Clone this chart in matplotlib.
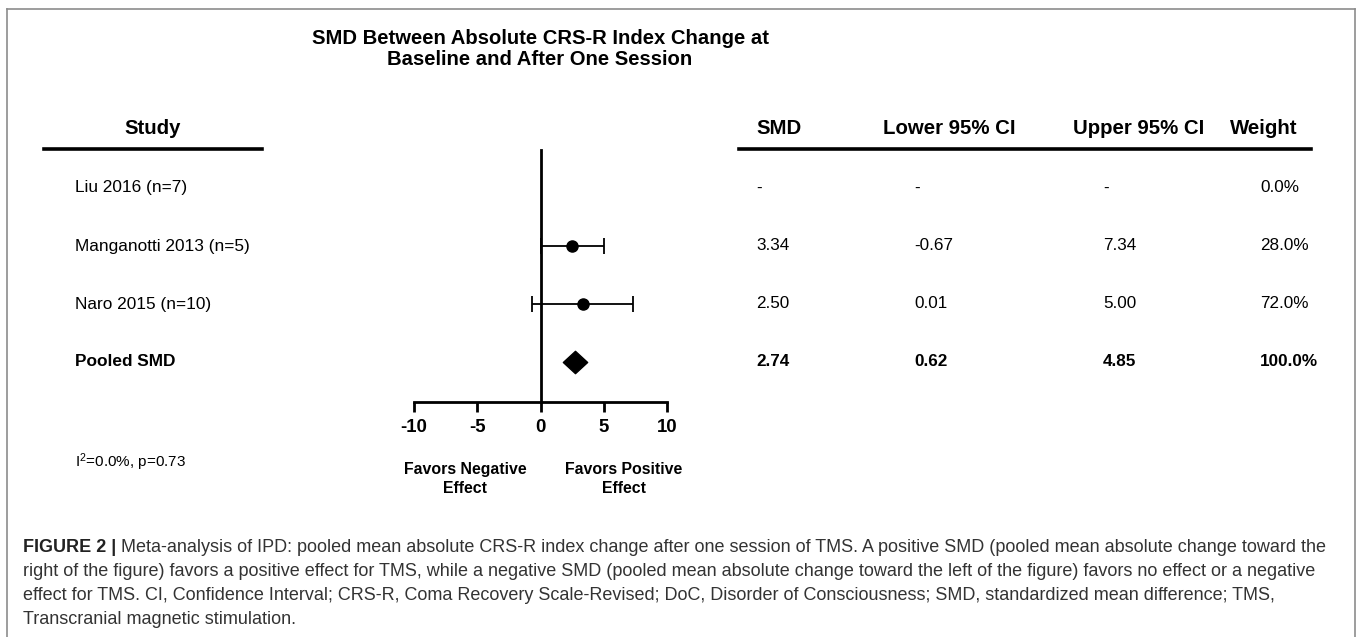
import numpy as np
import matplotlib
matplotlib.use("Agg")
import matplotlib.pyplot as plt
from matplotlib.lines import Line2D
from matplotlib.path import Path

# table contents
studies = ["Liu 2016 (n=7)", "Manganotti 2013 (n=5)", "Naro 2015 (n=10)", "Pooled SMD"]
col_headers = ["SMD", "Lower 95% CI", "Upper 95% CI", "Weight"]
smd_txt = ["-", "3.34", "2.50", "2.74"]
lower_txt = ["-", "-0.67", "0.01", "0.62"]
upper_txt = ["-", "7.34", "5.00", "4.85"]
weight_txt = ["0.0%", "28.0%", "72.0%", "100.0%"]

# what is drawn in the forest panel (one entry per study row)
plot_smd = [np.nan, 2.50, 3.34]
plot_lo = [np.nan, 0.01, -0.67]
plot_hi = [np.nan, 5.00, 7.34]
pooled_smd = 2.74
xticks = [-10, -5, 0, 5, 10]

plt.rcParams["font.family"] = ["Liberation Sans", "DejaVu Sans"]
plt.rcParams["mathtext.default"] = "regular"

W, H = 1357, 637
fig = plt.figure(figsize=(W / 100, H / 100), dpi=100)


def fx(x):
    return x / W


def fy(y):
    return 1 - y / H


# outer frame (no bottom edge)
for xs, ys in [([7, 7], [9, H]), ([7, 1355], [9, 9]), ([1355, 1355], [9, H])]:
    fig.add_artist(Line2D([fx(v) for v in xs], [fy(v) for v in ys], color="#8c8c8c", lw=1.2))

fig.text(fx(540), fy(49), "SMD Between Absolute CRS-R Index Change at\nBaseline and After One Session",
         ha="center", va="center", fontsize=14.6, fontweight="bold", linespacing=1.15)

# forest panel
ax = fig.add_axes([fx(414), fy(402), fx(667 - 414), (402 - 150) / H])
row_y = np.arange(len(studies))
ax.set_xlim(-10, 10)
ax.set_ylim(3.69, -0.655)

for i in range(len(plot_smd)):
    if np.isnan(plot_smd[i]):
        continue
    ax.errorbar(plot_smd[i], row_y[i], xerr=[[plot_smd[i] - plot_lo[i]], [plot_hi[i] - plot_smd[i]]],
                fmt="o", color="black", ms=8, elinewidth=1.3, capsize=5.5, capthick=1.3)

diamond = Path([(-1, 0), (0, 0.92), (1, 0), (0, -0.92), (-1, 0)], closed=True)
ax.plot(pooled_smd, row_y[3], marker=diamond, ms=17.5, color="black", ls="none")

for s in ["top", "right"]:
    ax.spines[s].set_visible(False)
ax.spines["left"].set_position(("data", 0))
ax.spines["left"].set_linewidth(2)
ax.spines["bottom"].set_linewidth(2)
ax.set_yticks([])
ax.set_xticks(xticks)
ax.set_xticklabels([str(t) for t in xticks], fontsize=13.4, fontweight="bold")
ax.tick_params(axis="x", direction="out", length=7.5, width=2, pad=5)
ax.patch.set_visible(False)

fig.text(fx(465), fy(479), "Favors Negative\nEffect", ha="center", va="center", fontsize=11.4,
         fontweight="bold", linespacing=1.3)
fig.text(fx(624), fy(479), "Favors Positive\nEffect", ha="center", va="center", fontsize=11.4,
         fontweight="bold", linespacing=1.3)

# left column
fig.text(fx(153), fy(129), "Study", ha="center", va="center", fontsize=14.7, fontweight="bold")
fig.add_artist(Line2D([fx(44), fx(262)], [fy(149), fy(149)], color="black", lw=2.6))
row_px = [188, 246, 304, 362]
for i, name in enumerate(studies):
    fig.text(fx(75), fy(row_px[i]), name, ha="left", va="center", fontsize=12.4,
             fontweight="bold" if i == 3 else "normal")
fig.text(fx(75), fy(462), "I$^{2}$=0.0%, p=0.73", ha="left", va="center", fontsize=11)

# right table
head_x = [756, 883, 1073, 1230]
val_x = [756, 914, 1103, 1260]
for hx, h in zip(head_x, col_headers):
    fig.text(fx(hx), fy(129), h, ha="left", va="center", fontsize=14.7, fontweight="bold")
fig.add_artist(Line2D([fx(739), fx(1311)], [fy(149), fy(149)], color="black", lw=2.6))
for col, vx in zip([smd_txt, lower_txt, upper_txt, weight_txt], val_x):
    for i, v in enumerate(col):
        fig.text(fx(vx), fy(row_px[i]), v, ha="left", va="center", fontsize=12.3,
                 fontweight="bold" if i == 3 else "normal")

# caption
cap_lines = [
    "Meta-analysis of IPD: pooled mean absolute CRS-R index change after one session of TMS. "
    "A positive SMD (pooled mean absolute change toward the",
    "right of the figure) favors a positive effect for TMS, while a negative SMD (pooled mean absolute "
    "change toward the left of the figure) favors no effect or a negative",
    "effect for TMS. CI, Confidence Interval; CRS-R, Coma Recovery Scale-Revised; DoC, Disorder of "
    "Consciousness; SMD, standardized mean difference; TMS,",
    "Transcranial magnetic stimulation.",
]
cap_y = [547, 571, 595, 619]
lab = fig.text(fx(23), fy(cap_y[0]), "FIGURE 2 |", ha="left", va="center", fontsize=13,
               fontweight="bold", color="#222222")
fig.canvas.draw()
bb = lab.get_window_extent()
for i, line in enumerate(cap_lines):
    x0 = (bb.x1 + 5) / W if i == 0 else fx(23)
    fig.text(x0, fy(cap_y[i]), line, ha="left", va="center", fontsize=13, color="#333333")

fig.savefig("out.png", dpi=100)
